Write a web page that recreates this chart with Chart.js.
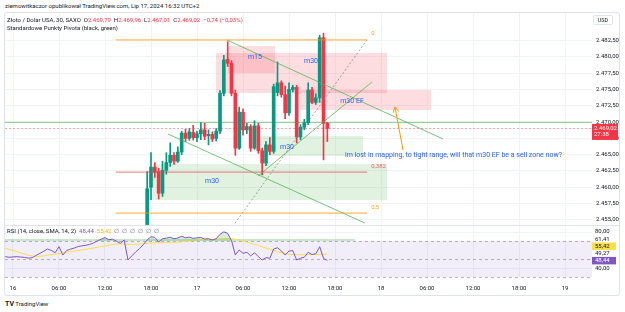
<!DOCTYPE html>
<html><head><meta charset="utf-8">
<script src="https://cdn.jsdelivr.net/npm/chart.js@4.4.1/dist/chart.umd.min.js"></script>
<style>
html,body{margin:0;padding:0;background:#fff;width:625px;height:312px;overflow:hidden;font-family:Roboto,"Liberation Sans",sans-serif;}
.t{position:absolute;white-space:nowrap;font-size:6px;line-height:7px;color:#131722;z-index:5;}
#frame{position:absolute;left:4px;top:12px;width:616px;height:284px;border:1px solid #e0e3eb;border-radius:3px;box-sizing:border-box;}
.wrap{position:absolute;}
canvas{display:block;}
.r{color:#f23645}
</style></head><body>
<div class="t" style="left:5px;top:2px;">ziemowitkaczor opublikował TradingView.com, Lip 17, 2024 16:32 UTC+2</div>
<div id="frame"></div>
<div class="wrap" style="left:5px;top:13px;width:615px;height:212px"><canvas id="pc" width="615" height="212"></canvas></div>
<div class="wrap" style="left:5px;top:225px;width:615px;height:71px"><canvas id="rc" width="615" height="71"></canvas></div>
<div style="position:absolute;left:5px;top:225px;width:614px;height:1px;background:#e0e3eb"></div>
<div class="t" style="left:7px;top:16px;">Złoto / Dolar USA, 30, SAXO&nbsp; O<span class="r">2.469,79</span>&nbsp; H<span class="r">2.469,96</span>&nbsp; L<span class="r">2.467,01</span>&nbsp; C<span class="r">2.469,02</span>&nbsp; <span class="r">−0,74 (−0,03%)</span></div>
<div class="t" style="left:7px;top:24px;">Standardowe Punkty Pivota (black, green)</div>
<div class="t" style="left:7px;top:227px;">RSI (14, close, SMA, 14, 2)&nbsp; <span style="color:#7e57c2">48,44</span>&nbsp; <span style="color:#e8c200">55,42</span>&nbsp; <span style="color:#787b86">∅&nbsp; ∅&nbsp; ∅&nbsp; ∅&nbsp; ∅&nbsp; ∅</span></div>
<div class="t" style="left:593px;top:15px;width:20px;height:10px;border:1px solid #e0e3eb;border-radius:2px;box-sizing:border-box;text-align:center;line-height:8px;font-size:5.5px;">USD</div>
<div class="t" style="left:5px;top:300px;font-size:6px;"><b style="font-size:7px">TV</b> TradingView</div>
<script>
// ---------- DATA ----------
const candleTimes = [17.5,18,18.5,19,19.5,20,20.5,21,21.5,22,22.5,23,23.5,24,24.5,25,25.5,26,26.5,27,27.5,28,28.5,29,29.5,30,30.5,31,31.5,32,32.5,33,33.5,34,34.5,35,35.5,36,36.5,37,37.5,38,38.5,39,39.5,40,40.5,41];
const opens  = [2454.3,2460.0,2463.1,2462.4,2459.1,2462.6,2463.8,2464.9,2464.0,2465.4,2468.3,2467.5,2468.4,2467.6,2468.2,2468.8,2467.9,2468.1,2467.5,2468.6,2474.4,2479.6,2479.0,2474.4,2466.0,2471.5,2468.8,2469.3,2466.0,2469.4,2465.6,2463.7,2466.5,2465.5,2474.5,2476.0,2474.2,2471.4,2475.0,2475.3,2467.7,2469.2,2469.9,2474.9,2473.0,2473.7,2482.9,2469.79];
const highs  = [2462.4,2465.3,2463.8,2462.9,2464.0,2465.3,2466.8,2465.3,2466.2,2468.6,2468.9,2469.0,2469.5,2468.6,2469.9,2469.8,2468.8,2468.5,2469.0,2474.8,2480.2,2482.3,2479.4,2474.9,2472.3,2472.0,2469.8,2469.6,2470.2,2469.8,2466.0,2467.0,2467.6,2475.8,2479.2,2476.3,2475.5,2476.0,2475.6,2475.6,2469.6,2470.4,2476.0,2475.3,2474.3,2483.3,2483.6,2469.96];
const lows   = [2454.3,2458.1,2461.5,2458.2,2458.6,2462.0,2463.2,2463.5,2463.8,2465.0,2467.0,2467.2,2467.2,2467.0,2467.3,2467.3,2466.5,2467.0,2467.1,2468.2,2474.0,2478.5,2474.0,2464.9,2465.8,2468.0,2468.2,2465.5,2465.8,2465.2,2461.9,2463.3,2465.0,2465.2,2474.0,2473.8,2470.5,2471.0,2474.6,2466.8,2467.3,2468.8,2469.6,2472.8,2472.7,2473.0,2464.2,2467.01];
const closes = [2459.8,2463.1,2462.3,2459.1,2462.6,2463.8,2464.9,2464.0,2465.4,2468.3,2467.5,2468.5,2467.6,2468.2,2468.8,2467.8,2468.1,2467.4,2468.6,2474.4,2479.5,2479.0,2474.4,2466.0,2471.5,2468.8,2469.3,2466.0,2469.4,2465.6,2463.7,2466.5,2465.5,2475.4,2476.0,2474.2,2471.4,2475.0,2475.3,2467.7,2469.2,2469.9,2474.9,2473.0,2473.7,2482.9,2469.8,2469.02];

const rsiTimes = [-1,-0.5,0,0.5,1,1.5,2,2.5,3,3.5,4,4.5,5,5.5,6,6.5,7,7.5,8,8.5,9,9.5,10,10.5,11,11.5,12,12.5,13,13.5,14,14.5,15,15.5,16,16.5,17,17.5,18,18.5,19,19.5,20,20.5,21,21.5,22,22.5,23,23.5,24,24.5,25,25.5,26,26.5,27,27.5,28,28.5,29,29.5,30,30.5,31,31.5,32,32.5,33,33.5,34,34.5,35,35.5,36,36.5,37,37.5,38,38.5,39,39.5,40,40.5,41];
const rsiValues = [52.6,51.9,52.3,52.6,52.2,51.8,51.0,51.4,54.0,56.3,
 58.5,61.1,59.5,57.0,63.7,54.4,59.5,61.0,62.2,63.9,
 64.6,65.3,66.2,67.8,70.2,72.0,73.8,71.5,72.0,69.8,
 67.4,71.1,48.9,53.5,57.8,61.5,66.0,
 71.1,74.8,74.0,69.0,72.5,73.2,74.2,72.5,73.4,75.2,
 73.6,74.3,72.9,73.5,74.0,72.2,72.5,71.2,72.4,77.5,
 80.2,78.5,70.5,54.5,60.0,56.3,57.5,53.5,57.0,52.6,
 48.9,51.5,50.8,61.1,62.5,59.0,54.4,58.9,59.2,48.9,
 50.8,52.0,57.5,55.0,55.8,63.7,50.8,48.44];
const smaTimes = [-1,0,1,2,3,4,5,6,7,8,9,10,11,12,13,14,15,16,17,18,19,20,21,22,23,24,25,26,27,28,29,30,31,32,33,34,35,36,37,38,39,40,41];
const smaValues = [61.9,59.5,57.0,54.2,52.8,53.5,54.8,56.0,57.5,58.8,60.0,61.5,63.0,64.5,66.0,67.0,66.0,66.5,67.0,67.8,68.0,68.3,68.6,69.0,70.0,71.1,71.8,72.0,72.3,72.8,72.0,70.0,67.5,65.0,62.2,59.5,57.0,55.3,54.8,54.8,55.0,55.2,55.42];

const priceTicks = [2455,2457.5,2460,2462.5,2465,2467.5,2470,2472.5,2475,2477.5,2480,2482.5];
const timeTicks  = [0,6,12,18,24,30,36,42,48,54,60,66,72];
const timeLabels = ['16','06:00','12:00','18:00','17','06:00','12:00','18:00','18','06:00','12:00','18:00','19'];
const rsiScaleLabels = [80,40];
const rsiBands = [70,50,30];
const rsiBBUpper = 61.41, rsiBBLower = 49.27;
const lastPrice = 2469.02, countdown = '27:38';
const pivotP = 2469.95;

// drawings (data space: hours, price)
const pinkZones  = [[26.48,48.78,2480.57,2474.44],[28.04,34.17,2481.64,2477.50],[37.43,54.52,2474.90,2471.84]];
const greenZones = [[32.22,45.65,2467.86,2464.79],[18.26,48.78,2463.57,2458.06]];
const zoneLabels = [['m15',31.56,2479.95],['m30',38.87,2479.34],['m30 EF',44.22,2473.22],['m30',35.74,2466.17],['m30',25.96,2460.96]];
const fibLevels  = [['0',2482.56,'rgba(255,152,0,0.65)','#f5a623'],['0,382',2462.33,'rgba(242,54,69,0.55)','#f06070'],['0,5',2456.06,'rgba(255,152,0,0.65)','#f5a623']];
const fibRange   = [13.4,46.2];
const fibTrend   = [[28.96,2454.5],[46.17,2482.56]];
const greenDiag  = [[[27.91,2482.56],[56.09,2467.40]],[[20.22,2468.16],[45.91,2454.53]],[[31.96,2461.73],[46.83,2476.13]]];
const arrowPts   = [[50.87,2465.71],[49.82,2472.30]];
const noteText   = ['im lost in mapping, to tight range, will that m30 EF be a sell zone now?',43.30,2464.84];

const T_MIN = -1.043, T_MAX = 75.52;
const P_MIN = 2454.23, P_MAX = 2486.69;
const R_MIN = 26.67, R_MAX = 87.78;

// ---------- HELPERS ----------
const FONT = 'Roboto, "Liberation Sans", sans-serif';
function fmtP(v){const s=v.toFixed(2).split('.');return s[0].replace(/\B(?=(\d{3})+(?!\d))/g,'.')+','+s[1];}
function fmtR(v){return v.toFixed(2).replace('.',',');}
const GREEN='#089981', RED='#f23645';
const cColors = opens.map((o,i)=> closes[i]>=o ? GREEN : RED);
function noPad(s){s.paddingTop=0;s.paddingBottom=0;s.paddingLeft=0;s.paddingRight=0;}

const pricePlugin = {
  id:'pricePlugin',
  beforeDatasetsDraw(chart){
    const {ctx, chartArea:a, scales:{x,y}} = chart;
    ctx.save();
    ctx.beginPath(); ctx.rect(a.left,a.top,a.right-a.left,a.bottom-a.top); ctx.clip();
    ctx.strokeStyle='#f0f3fa'; ctx.lineWidth=1;
    timeTicks.forEach(t=>{const px=Math.round(x.getPixelForValue(t))+0.5; ctx.beginPath(); ctx.moveTo(px,a.top); ctx.lineTo(px,a.bottom); ctx.stroke();});
    const rect=(z,c)=>{const x0=x.getPixelForValue(z[0]),x1=x.getPixelForValue(z[1]),y0=y.getPixelForValue(z[2]),y1=y.getPixelForValue(z[3]);ctx.fillStyle=c;ctx.fillRect(x0,y0,x1-x0,y1-y0);};
    pinkZones.forEach(z=>rect(z,'rgba(242,54,69,0.17)'));
    greenZones.forEach(z=>rect(z,'rgba(76,175,80,0.17)'));
    ctx.strokeStyle='rgba(76,175,80,0.55)'; ctx.lineWidth=1.2;
    let py=y.getPixelForValue(pivotP); ctx.beginPath(); ctx.moveTo(a.left,py); ctx.lineTo(a.right,py); ctx.stroke();
    ctx.restore();
  },
  afterDatasetsDraw(chart){
    const {ctx, chartArea:a, scales:{x,y}} = chart;
    const P=(p)=>[x.getPixelForValue(p[0]),y.getPixelForValue(p[1])];
    ctx.save();
    ctx.beginPath(); ctx.rect(a.left,a.top,a.right-a.left,a.bottom-a.top); ctx.clip();
    ctx.strokeStyle='rgba(242,54,69,0.45)'; ctx.lineWidth=1; ctx.setLineDash([2,2]);
    let ly=Math.round(y.getPixelForValue(lastPrice))+0.5; ctx.beginPath(); ctx.moveTo(a.left,ly); ctx.lineTo(a.right,ly); ctx.stroke();
    ctx.strokeStyle='rgba(120,123,134,0.7)'; ctx.setLineDash([2,2]);
    let p0=P(fibTrend[0]),p1=P(fibTrend[1]); ctx.beginPath(); ctx.moveTo(...p0); ctx.lineTo(...p1); ctx.stroke();
    ctx.setLineDash([]);
    fibLevels.forEach(f=>{const yy=y.getPixelForValue(f[1]);ctx.strokeStyle=f[2];ctx.lineWidth=1.2;ctx.beginPath();ctx.moveTo(x.getPixelForValue(fibRange[0]),yy);ctx.lineTo(x.getPixelForValue(fibRange[1]),yy);ctx.stroke();
      ctx.fillStyle=f[3];ctx.font='6px '+FONT;ctx.textAlign='left';ctx.textBaseline='middle';ctx.fillText(f[0],x.getPixelForValue(fibRange[1])+4,yy-6);});
    ctx.strokeStyle='rgba(76,175,80,0.75)'; ctx.lineWidth=1;
    greenDiag.forEach(l=>{const a0=P(l[0]),a1=P(l[1]);ctx.beginPath();ctx.moveTo(...a0);ctx.lineTo(...a1);ctx.stroke();});
    const s=P(arrowPts[0]),e=P(arrowPts[1]);
    ctx.strokeStyle='#ff9800'; ctx.lineWidth=1;
    ctx.beginPath(); ctx.moveTo(...s); ctx.lineTo(...e); ctx.stroke();
    const ang=Math.atan2(e[1]-s[1],e[0]-s[0]);
    ctx.beginPath();
    ctx.moveTo(e[0]-6*Math.cos(ang-0.5),e[1]-6*Math.sin(ang-0.5)); ctx.lineTo(...e);
    ctx.lineTo(e[0]-6*Math.cos(ang+0.5),e[1]-6*Math.sin(ang+0.5)); ctx.stroke();
    ctx.fillStyle='#2962ff'; ctx.textBaseline='middle';
    ctx.font='7px '+FONT; ctx.textAlign='center';
    zoneLabels.forEach(l=>ctx.fillText(l[0],x.getPixelForValue(l[1]),y.getPixelForValue(l[2])));
    ctx.font='7px '+FONT; ctx.textAlign='left';
    ctx.fillText(noteText[0],x.getPixelForValue(noteText[1]),y.getPixelForValue(noteText[2]));
    ctx.restore();
    ctx.save();
    const by=y.getPixelForValue(lastPrice);
    ctx.fillStyle=RED; ctx.fillRect(a.right,by-4.5,26,16);
    ctx.fillStyle='#fff'; ctx.font='6px '+FONT; ctx.textAlign='left'; ctx.textBaseline='middle';
    ctx.fillText(fmtP(lastPrice),a.right+2,by+0.5);
    ctx.fillText(countdown,a.right+2,by+6.5);
    ctx.restore();
  }
};

new Chart(document.getElementById('pc'),{
  type:'bar',
  data:{datasets:[
    {data:candleTimes.map((t,i)=>({x:t,y:[lows[i],highs[i]]})),backgroundColor:cColors,barThickness:1,grouped:false,order:2},
    {data:candleTimes.map((t,i)=>({x:t,y:[opens[i],closes[i]]})),backgroundColor:cColors,barThickness:3,minBarLength:1,grouped:false,order:1}
  ]},
  options:{
    responsive:false,animation:false,devicePixelRatio:1,
    layout:{padding:0,autoPadding:false},
    plugins:{legend:{display:false},tooltip:{enabled:false}},
    scales:{
      x:{type:'linear',display:false,min:T_MIN,max:T_MAX,offset:false,grid:{offset:false},afterFit:noPad},
      y:{position:'right',min:P_MIN,max:P_MAX,
        afterFit(s){s.width=28;noPad(s);},
        afterBuildTicks(s){s.ticks=priceTicks.map(v=>({value:v}));},
        ticks:{padding:4,font:{size:6,family:FONT},color:'#131722',callback:v=>fmtP(v)},
        grid:{color:'#f0f3fa',drawTicks:false},border:{display:false}}
    }
  },
  plugins:[pricePlugin]
});

const rsiPlugin = {
  id:'rsiPlugin',
  beforeDatasetsDraw(chart){
    const {ctx, chartArea:a, scales:{x,y}} = chart;
    ctx.save();
    ctx.beginPath(); ctx.rect(a.left,a.top,a.right-a.left,a.bottom-a.top+2); ctx.clip();
    const y70=y.getPixelForValue(rsiBands[0]), y30=y.getPixelForValue(rsiBands[2]);
    ctx.fillStyle='rgba(126,87,194,0.1)'; ctx.fillRect(a.left,y70,a.right-a.left,y30-y70);
    ctx.strokeStyle='rgba(120,123,134,0.55)'; ctx.lineWidth=1; ctx.setLineDash([3,3]);
    rsiBands.forEach(v=>{const yy=Math.round(y.getPixelForValue(v))+0.5;ctx.beginPath();ctx.moveTo(a.left,yy);ctx.lineTo(a.right,yy);ctx.stroke();});
    ctx.setLineDash([]);
    ctx.strokeStyle='rgba(76,175,80,0.6)'; ctx.lineWidth=1.2;
    const gy=y.getPixelForValue(rsiBands[0])-1; ctx.beginPath(); ctx.moveTo(a.left,gy); ctx.lineTo(x.getPixelForValue(44.6),gy); ctx.stroke();
    ctx.restore();
  },
  afterDraw(chart){
    const {ctx, chartArea:a, scales:{y}} = chart;
    const items=[
      {v:rsiScaleLabels[1],txt:fmtR(rsiScaleLabels[1]),bg:null,fg:'#131722'},
      {v:rsiValues[rsiValues.length-1],txt:fmtR(rsiValues[rsiValues.length-1]),bg:'#7e57c2',fg:'#fff'},
      {v:rsiBBLower,txt:fmtR(rsiBBLower),bg:null,fg:'#131722'},
      {v:smaValues[smaValues.length-1],txt:fmtR(smaValues[smaValues.length-1]),bg:'#f7de4a',fg:'#131722'},
      {v:rsiBBUpper,txt:fmtR(rsiBBUpper),bg:null,fg:'#131722'},
      {v:rsiScaleLabels[0],txt:fmtR(rsiScaleLabels[0]),bg:null,fg:'#131722'}
    ];
    let prev=1e9;
    ctx.save(); ctx.font='6px '+FONT; ctx.textBaseline='middle'; ctx.textAlign='left';
    items.forEach(it=>{let py=y.getPixelForValue(it.v); if(py>prev-7.2) py=prev-7.2; prev=py;
      if(it.bg){ctx.fillStyle=it.bg;ctx.fillRect(a.right,py-3.5,24,7.5);}
      ctx.fillStyle=it.fg; ctx.fillText(it.txt,a.right+3,py+0.3);});
    ctx.restore();
  }
};

new Chart(document.getElementById('rc'),{
  type:'line',
  data:{datasets:[
    {data:rsiTimes.map((t,i)=>({x:t,y:rsiValues[i]})),borderColor:'#7e57c2',borderWidth:1,pointRadius:0,tension:0,
      fill:{target:{value:70},above:'rgba(76,175,80,0.22)',below:'rgba(0,0,0,0)'}},
    {data:smaTimes.map((t,i)=>({x:t,y:smaValues[i]})),borderColor:'#f7de4a',borderWidth:1,pointRadius:0,tension:0.3,fill:false}
  ]},
  options:{
    responsive:false,animation:false,devicePixelRatio:1,
    layout:{padding:0,autoPadding:false},
    plugins:{legend:{display:false},tooltip:{enabled:false}},
    scales:{
      x:{type:'linear',min:T_MIN,max:T_MAX,
        afterFit(s){s.height=16;noPad(s);},
        afterBuildTicks(s){s.ticks=timeTicks.map(v=>({value:v}));},
        ticks:{padding:5,maxRotation:0,autoSkip:false,font:{size:6,family:FONT},color:'#131722',
          callback:(v)=>{const k=timeTicks.indexOf(v);return k>=0?timeLabels[k]:'';}},
        grid:{color:'#f0f3fa',drawTicks:false},border:{display:false}},
      y:{position:'right',min:R_MIN,max:R_MAX,
        afterFit(s){s.width=28;noPad(s);},
        afterBuildTicks(s){s.ticks=rsiScaleLabels.map(v=>({value:v}));},
        ticks:{display:false},
        grid:{color:'#f0f3fa',drawTicks:false},border:{display:false}}
    }
  },
  plugins:[rsiPlugin]
});
</script>
</body></html>
